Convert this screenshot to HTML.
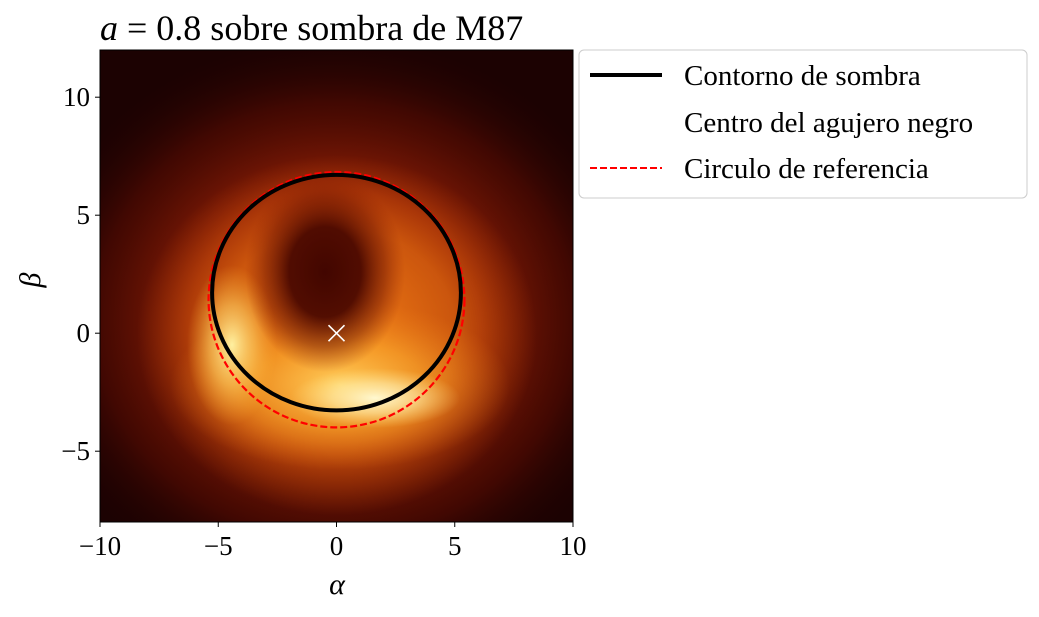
<!DOCTYPE html>
<html><head><meta charset="utf-8"><style>
body{margin:0;background:#fff;width:1039px;height:612px;overflow:hidden;font-family:"Liberation Serif",serif}
</style></head><body>
<svg id="chart" width="1039" height="612" xmlns="http://www.w3.org/2000/svg">
<defs>
<clipPath id="pc"><rect x="100" y="50" width="473" height="472"/></clipPath>
<radialGradient id="g1"><stop offset="0" stop-color="#c8420a"/><stop offset="0.45" stop-color="#9a2206" stop-opacity="0.9"/><stop offset="0.75" stop-color="#5a0c02" stop-opacity="0.6"/><stop offset="1" stop-color="#1c0202" stop-opacity="0"/></radialGradient>
<radialGradient id="g2"><stop offset="0" stop-color="#f08018"/><stop offset="0.6" stop-color="#e06a10" stop-opacity="0.7"/><stop offset="1" stop-color="#d05008" stop-opacity="0"/></radialGradient>
<radialGradient id="g3"><stop offset="0" stop-color="#ffd060"/><stop offset="0.5" stop-color="#ffb030" stop-opacity="0.6"/><stop offset="1" stop-color="#f08018" stop-opacity="0"/></radialGradient>
<radialGradient id="g4"><stop offset="0" stop-color="#fff0a0"/><stop offset="0.5" stop-color="#ffd060" stop-opacity="0.6"/><stop offset="1" stop-color="#ffb030" stop-opacity="0"/></radialGradient>
<radialGradient id="g5"><stop offset="0" stop-color="#fff8d0"/><stop offset="0.5" stop-color="#fff0b0" stop-opacity="0.6"/><stop offset="1" stop-color="#ffe080" stop-opacity="0"/></radialGradient>
<radialGradient id="g6"><stop offset="0" stop-color="#420600"/><stop offset="0.45" stop-color="#4a0800" stop-opacity="0.95"/><stop offset="0.75" stop-color="#701402" stop-opacity="0.5"/><stop offset="1" stop-color="#902004" stop-opacity="0"/></radialGradient>
</defs>
<g clip-path="url(#pc)">
<rect x="100" y="50" width="473" height="472" fill="#1c0202"/>
<ellipse cx="335" cy="320" rx="320" ry="290" fill="url(#g1)"/>
<ellipse cx="337" cy="335" rx="200" ry="180" fill="url(#g2)"/>
<ellipse cx="340" cy="385" rx="170" ry="85" fill="url(#g3)"/>
<ellipse cx="232" cy="345" rx="45" ry="80" fill="url(#g4)"/>
<ellipse cx="375" cy="398" rx="85" ry="30" fill="url(#g5)"/>
<ellipse cx="325" cy="272" rx="80" ry="100" fill="url(#g6)"/>
</g>
<g id="marks"></g>
<rect x="100" y="50" width="473" height="472" fill="none" stroke="#000" stroke-width="1"/>
<g id="axes" font-size="27" fill="#000"></g>
<text x="100" y="40" font-size="36"><tspan font-style="italic">a</tspan> = 0.8 sobre sombra de M87</text>
<text x="337" y="594" font-size="30" font-style="italic" text-anchor="middle">α</text>
<text x="40" y="280" font-size="30" font-style="italic" text-anchor="middle" transform="rotate(-90 40 280)">β</text>
<g>
<rect x="579" y="50" width="448" height="148" rx="5" fill="#fff" stroke="#ccc"/>
<line x1="590" y1="75" x2="662" y2="75" stroke="#000" stroke-width="4"/>
<text x="684" y="85" font-size="29">Contorno de sombra</text>
<text x="684" y="132" font-size="29">Centro del agujero negro</text>
<line x1="590" y1="168" x2="662" y2="168" stroke="#f00" stroke-width="2" stroke-dasharray="7,3"/>
<text x="684" y="178" font-size="29">Circulo de referencia</text>
</g>
</svg>
<script>
const xTicks=[-10,-5,0,5,10];
const yTicks=[-5,0,5,10];
const xTickLabels=["−10","−5","0","5","10"];
const yTickLabels=["−5","0","5","10"];
const shadowCenter=[0,1.72];
const shadowRadii=[5.26,4.98];
const refCenter=[0,1.42];
const refRadii=[5.41,5.4];
const bhCenter=[0,0];
const X=v=>100+(v+10)*473/20;
const Y=v=>522-(v+8)*472/20;
const S=(v)=>v*473/20;
const ns="http://www.w3.org/2000/svg";
const marks=document.getElementById('marks'),axes=document.getElementById('axes');
function mk(t,a,p){const e=document.createElementNS(ns,t);for(const k in a)e.setAttribute(k,a[k]);p.appendChild(e);return e;}
const r=mk('ellipse',{cx:X(refCenter[0]),cy:Y(refCenter[1]),rx:S(refRadii[0]),ry:S(refRadii[1]),fill:'none',stroke:'#f00','stroke-width':2.2,'stroke-dasharray':'7,3'},marks);


const s=mk('ellipse',{cx:X(shadowCenter[0]),cy:Y(shadowCenter[1]),rx:S(shadowRadii[0]),ry:S(shadowRadii[1]),fill:'none',stroke:'#000','stroke-width':4},marks);


const cx=X(bhCenter[0]),cy=Y(bhCenter[1]);
const c=mk('path',{d:`M${cx-8},${cy-8}L${cx+8},${cy+8}M${cx-8},${cy+8}L${cx+8},${cy-8}`,stroke:'#fff','stroke-width':1.6},marks);


xTicks.forEach((v,i)=>{
const l=mk('line',{x1:X(v),x2:X(v),y1:522,y2:527,stroke:'#000'},axes);


const t=mk('text',{x:X(v),y:555,'text-anchor':'middle'},axes);t.textContent=xTickLabels[i];


});
yTicks.forEach((v,i)=>{
const l=mk('line',{x1:95,x2:100,y1:Y(v),y2:Y(v),stroke:'#000'},axes);


const t=mk('text',{x:90,y:Y(v)+9,'text-anchor':'end'},axes);t.textContent=yTickLabels[i];


});
</script>
</body></html>
